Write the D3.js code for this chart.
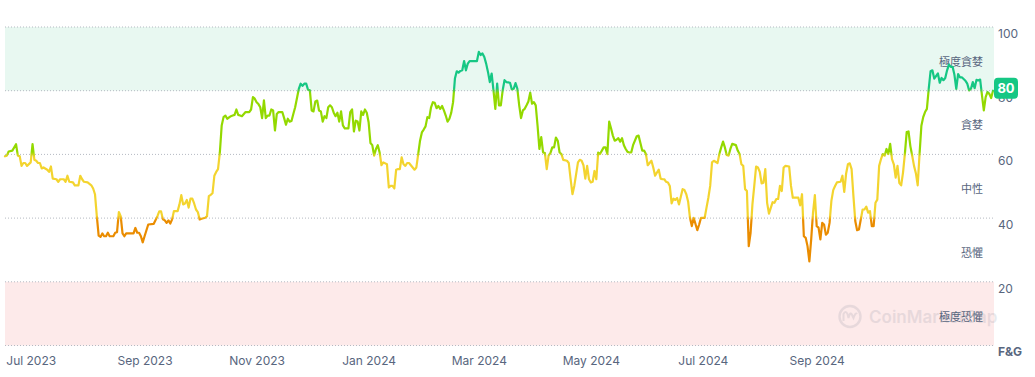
<!DOCTYPE html>
<html>
<head>
<meta charset="utf-8">
<script src="https://cdn.jsdelivr.net/npm/d3@7"></script>
<style>
  body { margin: 0; background: #fff; }
  svg { display: block; font-family: Inter, "Noto Sans CJK TC", sans-serif; }
</style>
</head>
<body>
<script>
// Fear & Greed index, daily-ish readings (day offset from start date)
const startDay = "2023-06-17";
const endOffset = 538;

const dayOffsets = [
  0,1,2,4,6,7,8,9,10,11,12,14,15,16,17,18,19,20,21,23,24,25,26,28,29,30,32,33,34,35,
  37,38,40,41,42,43,45,47,48,49,50,51,52,53,54,55,56,57,59,60,61,62,63,64,65,66,70,71,72,73,
  74,75,76,78,81,83,84,85,86,87,88,89,90,91,92,94,95,96,97,98,99,100,101,102,103,104,105,106,107,109,
  110,111,112,113,114,115,116,117,118,119,120,121,123,124,125,126,127,128,129,131,133,134,135,136,137,138,
  139,140,141,142,143,144,145,146,147,148,149,151,152,153,154,155,156,157,158,160,
  161,162,163,164,165,166,167,168,169,170,171,172,173,174,175,176,177,178,179,180,
  181,182,183,184,185,187,188,189,190,191,192,193,194,195,196,197,198,199,200,201,
  202,203,204,205,206,208,209,210,211,212,213,214,215,216,217,218,219,220,222,223,
  224,225,226,227,228,229,230,231,232,233,234,235,236,237,238,239,240,241,242,243,
  244,245,246,247,248,249,250,251,252,253,256,257,258,259,260,261,262,263,264,265,
  266,267,268,269,270,271,272,273,
  275,276,277,278,279,280,281,282,283,284,285,286,287,288,289,290,291,292,293,294,
  295,296,297,298,299,300,301,302,303,304,306,307,308,309,310,312,313,314,315,316,
  317,318,319,320,321,322,323,324,326,327,328,329,330,331,332,333,334,335,336,337,
  338,339,340,341,342,344,345,346,347,348,349,350,352,353,354,355,356,357,358,359,
  360,361,362,363,364,365,366,367,368,369,370,371,372,373,374,375,377,378,379,381,
  382,383,384,385,386,388,389,390,391,392,393,394,395,396,398,399,400,401,402,403,
  404,405,406,
  407,408,409,410,411,412,413,414,415,416,417,418,419,420,421,422,423,424,425,427,
  428,429,430,432,433,434,435,436,437,438,439,440,441,442,443,444,445,446,447,448,
  449,450,451,452,453,455,456,457,458,459,460,461,462,463,464,465,467,468,469,470,
  471,472,473,474,475,476,477,478,479,480,481,482,483,484,485,486,487,488,489,490,
  491,492,493,494,495,496,497,498,499,500,501,502,503,504,505,506,508,509,510,511,
  512,513,514,515,516,517,518,519,520,521,523,524,525,526,527,528,529,530,531,532,
  533,534,535,536,537,538
];

const fgValues = [
  59.4,59.6,60.9,61.2,63.2,59.6,59.4,56.4,57.3,57.3,56.4,57.5,63.2,58.3,58.0,57.3,57.3,55.6,55.9,55.2,
  54.5,56.2,52.4,52.2,51.4,52.2,52.2,51.4,53.3,51.4,51.2,50.3,50.3,53.3,52.2,51.4,51.2,50.3,49.3,47.5,
  40.6,34.5,34.1,35.2,34.3,34.3,35.4,34.3,34.3,35.4,35.6,41.9,40.6,35.2,34.3,35.2,35.2,36.9,35.4,35.4,
  34.3,32.4,34.3,38.0,38.2,40.6,42.1,42.1,39.6,39.3,38.5,39.3,38.3,39.6,42.2,42.2,44.3,47.2,44.3,44.6,
  45.7,43.3,46.1,46.1,44.6,42.7,41.9,39.6,39.8,40.1,40.6,46.9,47.3,47.8,53.3,54.5,55.4,60.6,69.1,71.7,
  72.2,71.2,72.0,72.2,72.4,74.1,72.4,72.2,72.0,73.3,73.3,74.1,78.0,77.5,76.4,75.8,
  74.8,71.4,77.0,71.4,72.2,72.2,74.1,73.8,67.5,72.7,73.3,73.3,71.4,69.3,71.2,70.3,70.5,72.7,74.8,80.6,
  82.2,81.5,82.2,82.2,80.3,80.1,73.8,73.5,76.6,76.9,73.8,73.5,70.3,72.0,71.4,74.8,75.4,74.8,73.1,72.0,
  73.1,70.3,73.5,69.1,68.2,68.2,73.3,74.1,67.2,70.6,70.3,67.5,73.5,72.4,74.1,73.1,70.1,63.6,62.9,59.6,
  61.7,62.9,60.6,56.6,57.5,56.9,49.6,50.1,50.1,49.3,55.2,55.4,55.4,59.1,56.9,56.4,57.3,57.3,55.9,55.2,
  55.9,60.1,64.3,66.9,67.8,68.8,71.7,71.4,74.8,76.4,76.2,74.5,75.2,74.3,75.2,73.8,72.2,70.3,71.2,73.1,
  76.4,83.8,86.1,85.7,86.2,86.4,89.3,86.4,88.5,89.3,89.3,89.3,92.2,91.2,91.7,90.6,88.5,85.9,82.7,85.4,
  80.1,74.3,82.2,75.4,75.4,80.1,83.3,82.7,
  82.5,80.4,80.6,82.4,80.6,75.4,71.4,73.8,74.3,75.4,76.6,79.4,75.9,76.4,75.4,69.0,61.7,65.4,60.6,60.4,
  55.4,59.6,60.4,62.2,62.2,65.3,64.3,60.6,60.1,58.3,58.0,57.3,52.2,47.5,50.1,57.5,58.3,58.0,56.6,52.4,
  56.4,52.2,51.2,51.4,54.8,52.2,60.6,60.1,62.2,62.2,60.1,70.3,68.2,65.9,64.3,64.6,65.1,64.0,65.1,62.9,
  61.7,60.8,60.6,60.6,62.9,65.7,65.9,63.6,61.2,61.2,60.1,56.6,58.0,55.9,53.3,54.3,55.2,52.4,52.2,52.2,
  51.4,51.2,50.1,44.6,46.1,45.7,46.3,44.3,46.7,49.1,48.8,47.5,45.1,40.1,37.5,40.1,36.2,38.0,40.1,40.1,
  43.3,46.4,50.1,57.5,58.0,57.3,60.1,62.2,64.0,62.2,59.8,59.6,61.7,63.3,62.9,61.2,60.1,56.9,56.4,49.1,
  48.5,31.2,35.4,
  44.3,50.1,56.2,55.9,54.5,50.9,51.1,55.4,44.8,41.4,43.2,45.0,44.8,46.0,46.0,50.1,48.5,55.9,56.4,56.2,
  50.1,46.4,46.4,46.4,44.0,47.5,34.3,33.8,31.2,26.4,33.3,41.7,47.2,37.5,37.0,33.3,38.5,38.0,34.8,35.4,
  38.5,45.4,48.8,50.1,51.2,51.4,53.3,48.2,53.9,56.9,57.2,55.4,46.9,39.1,36.2,36.4,42.7,42.7,43.6,41.7,
  42.2,37.5,37.5,44.8,45.8,56.4,58.5,60.1,59.6,61.7,60.1,63.3,58.5,56.9,52.7,56.4,51.0,50.3,54.3,60.1,
  67.0,67.2,62.6,59.6,56.4,54.1,50.3,60.1,69.0,71.7,73.3,74.3,80.6,86.1,86.4,83.8,85.4,82.5,84.0,83.3,
  84.0,86.4,88.2,87.5,87.5,85.0,80.6,85.2,84.2,84.2,83.1,82.2,80.1,80.6,82.7,80.8,83.4,83.2,83.5,78.5,
  73.8,78.0,79.6,79.0,77.7,80
];

const currentValue = 80;

const monthTicks = ["2023-07-01","2023-09-01","2023-11-01","2024-01-01","2024-03-01","2024-05-01","2024-07-01","2024-09-01"];
const yTicks = [20, 40, 60, 80, 100];
const gridValues = [0, 20, 40, 60, 80, 100];

const zoneNames = ["極度恐懼", "恐懼", "中性", "貪婪", "極度貪婪"];
const zoneLow   = [0, 20, 40, 60, 80];
const zoneHigh  = [20, 40, 60, 80, 100];
const zoneColors = ["#ea3943", "#ea8c00", "#f3d42f", "#93d900", "#16c784"];

const W = 1035, H = 377;
const parse = d3.timeParse("%Y-%m-%d");
const start = parse(startDay);

const data = dayOffsets.map((d, i) => ({ date: d3.timeDay.offset(start, d), value: fgValues[i] }));

const x = d3.scaleTime()
  .domain([start, d3.timeDay.offset(start, endOffset)])
  .range([5, 993]);

const y = d3.scaleLinear()
  .domain([0, 100])
  .range([345.5, 27]);

const svg = d3.select("body")
  .append("svg")
  .attr("width", W)
  .attr("height", H);

// background bands for extreme zones
svg.append("rect")
  .attr("x", x.range()[0]).attr("width", x.range()[1] - x.range()[0] + 1)
  .attr("y", y(100)).attr("height", y(80) - y(100))
  .attr("fill", "#e8f8f1");

svg.append("rect")
  .attr("x", x.range()[0]).attr("width", x.range()[1] - x.range()[0] + 1)
  .attr("y", y(20)).attr("height", y(0) - y(20))
  .attr("fill", "#fdeaea");

// watermark
const wm = svg.append("g").attr("opacity", 0.13).attr("fill", "#58667e");
wm.append("circle")
  .attr("cx", 850).attr("cy", 316.5).attr("r", 10.5)
  .attr("fill", "none").attr("stroke", "#58667e").attr("stroke-width", 2.4);
wm.append("path")
  .attr("d", "M843.5,321 L843.5,314 Q845.5,310 847.5,314 L848.5,318 Q850.5,310 852.5,316 L853.5,318 Q855.5,312 857,314")
  .attr("fill", "none").attr("stroke", "#58667e").attr("stroke-width", 2);
wm.append("text")
  .attr("x", 869).attr("y", 322.5)
  .attr("font-size", 17).attr("font-weight", 600)
  .text("CoinMarketCap");

// dotted gridlines
svg.append("g")
  .selectAll("line")
  .data(gridValues)
  .join("line")
  .attr("x1", x.range()[0]).attr("x2", x.range()[1] + 1)
  .attr("y1", d => y(d)).attr("y2", d => y(d))
  .attr("stroke", "#b4b9c2")
  .attr("stroke-width", 1)
  .attr("stroke-dasharray", "1,2");

// zone labels
svg.append("g")
  .selectAll("text")
  .data(zoneNames)
  .join("text")
  .attr("x", 983)
  .attr("y", (d, i) => y((zoneLow[i] + zoneHigh[i]) / 2) + 3)
  .attr("dy", "0.35em")
  .attr("text-anchor", "end")
  .attr("font-size", 11)
  .attr("fill", "#58667e")
  .text(d => d);

// colour gradient along value
const defs = svg.append("defs");
const grad = defs.append("linearGradient")
  .attr("id", "fgGrad")
  .attr("gradientUnits", "userSpaceOnUse")
  .attr("x1", 0).attr("x2", 0)
  .attr("y1", y(100)).attr("y2", y(0));
const stops = [];
zoneColors.slice().reverse().forEach((c, i) => {
  const hi = zoneHigh[4 - i], lo = zoneLow[4 - i];
  stops.push({ off: (100 - Math.min(100, hi - (hi === 100 ? 0 : 0.8))) / 100, color: c });
  stops.push({ off: (100 - Math.max(0, lo + (lo === 0 ? 0 : 0.8))) / 100, color: c });
});
stops[0].off = 0;
stops[stops.length - 1].off = 1;
grad.selectAll("stop")
  .data(stops)
  .join("stop")
  .attr("offset", d => d.off)
  .attr("stop-color", d => d.color);

const line = d3.line()
  .x(d => x(d.date))
  .y(d => y(d.value));

svg.append("path")
  .datum(data)
  .attr("d", line)
  .attr("fill", "none")
  .attr("stroke", "url(#fgGrad)")
  .attr("stroke-width", 2.2)
  .attr("stroke-linejoin", "round")
  .attr("stroke-linecap", "round");

// right value axis
const yAxis = svg.append("g")
  .attr("transform", `translate(${x.range()[1] + 1},0)`)
  .call(d3.axisRight(y).tickValues(yTicks).tickSize(0).tickPadding(4));
yAxis.select(".domain").remove();
yAxis.selectAll("text")
  .attr("y", 6.5)
  .attr("font-family", "Inter, sans-serif")
  .attr("font-size", 12)
  .attr("fill", "#58667e");

svg.append("text")
  .attr("x", 998).attr("y", 356)
  .attr("font-size", 12)
  .attr("font-weight", 700)
  .attr("fill", "#58667e")
  .text("F&G");

// bottom time axis
const xAxis = svg.append("g")
  .attr("transform", `translate(0,${y(0)})`)
  .call(d3.axisBottom(x)
    .tickValues(monthTicks.map(parse))
    .tickFormat(d3.timeFormat("%b %Y"))
    .tickSize(0)
    .tickPadding(11));
xAxis.select(".domain").remove();
xAxis.selectAll("text")
  .attr("font-family", "Inter, sans-serif")
  .attr("font-size", 12)
  .attr("fill", "#58667e");

// current value badge
const badge = svg.append("g");
badge.append("rect")
  .attr("x", 994).attr("y", y(currentValue) - 13)
  .attr("width", 24).attr("height", 21)
  .attr("rx", 4)
  .attr("fill", "#16c784");
badge.append("text")
  .attr("x", 1006).attr("y", y(currentValue) - 2.5)
  .attr("dy", "0.35em")
  .attr("text-anchor", "middle")
  .attr("font-size", 13)
  .attr("font-weight", 700)
  .attr("fill", "#fff")
  .text(currentValue);
</script>
</body>
</html>
